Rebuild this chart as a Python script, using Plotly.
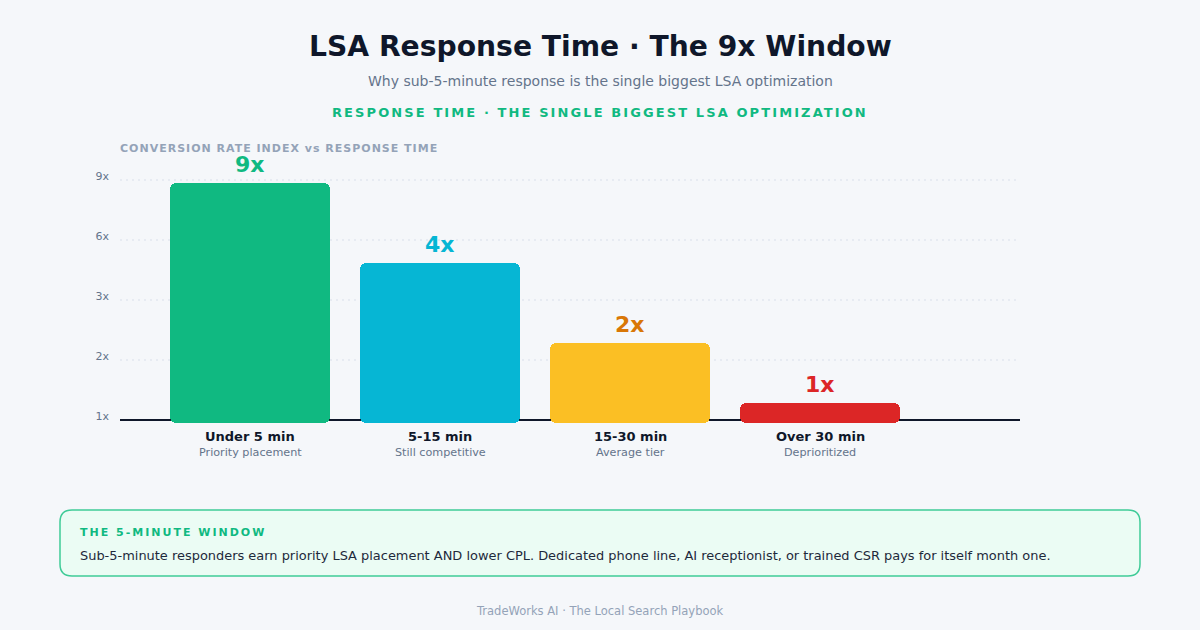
import plotly.graph_objects as go

# ---------------- data ----------------
categories = ["Under 5 min", "5-15 min", "15-30 min", "Over 30 min"]
sublabels = ["Priority placement", "Still competitive", "Average tier", "Deprioritized"]
multipliers = [9, 4, 2, 1]
value_labels = [f"{m}x" for m in multipliers]
bar_height_pct = [100, 66.7, 33.3, 8.3]          # displayed bar height (% of max)
tick_pct = [0, 25, 50, 75, 100]
tick_labels = ["1x", "2x", "3x", "6x", "9x"]
bar_colors = ["#10b981", "#06b6d4", "#fbbf24", "#dc2626"]
label_colors = ["#10b981", "#06b6d4", "#d97706", "#dc2626"]

title = "LSA Response Time · The 9x Window"
subtitle = "Why sub-5-minute response is the single biggest LSA optimization"
kicker = "RESPONSE TIME · THE SINGLE BIGGEST LSA OPTIMIZATION"
chart_label = "CONVERSION RATE INDEX vs RESPONSE TIME"
box_title = "THE 5-MINUTE WINDOW"
box_text = ("Sub-5-minute responders earn priority LSA placement AND lower CPL. "
            "Dedicated phone line, AI receptionist, or trained CSR pays for itself month one.")
footer = "TradeWorks AI · The Local Search Playbook"

# ---------------- layout helpers ----------------
W, H = 1200, 630
ML, MR, MT, MB = 120, 180, 170, 200
PW, PH = W - ML - MR, H - MT - MB
FONT = "DejaVu Sans, Verdana, sans-serif"


def px(x):
    return (x - ML) / PW


def py(y):
    return (H - MB - y) / PH


def spaced(t, ls):
    return f'<span style="letter-spacing:{ls}px">{t}</span>'


xpos = list(range(len(categories)))
bar_w = 160 / 190
x_range = [-130 / 190, 770 / 190]
y_unit = 2.4  # px per pct
y_range = [-10 / y_unit, 250 / y_unit]
base_off = -3 / y_unit

fig = go.Figure()
fig.add_trace(go.Bar(
    x=xpos, y=bar_height_pct, base=[base_off] * len(xpos), width=bar_w,
    marker=dict(color=bar_colors, cornerradius=6, line=dict(width=0)),
    hoverinfo="skip", showlegend=False,
))

ann = []
# value labels above bars
for i, (h, lab, c) in enumerate(zip(bar_height_pct, value_labels, label_colors)):
    ann.append(dict(x=i, y=h + base_off, xref="x", yref="y", text=f"<b>{lab}</b>",
                    showarrow=False, yanchor="bottom", yshift=4,
                    font=dict(size=22, color=c, family=FONT)))
# category labels
for i, (cat, sub) in enumerate(zip(categories, sublabels)):
    ann.append(dict(x=i, y=py(436), xref="x", yref="paper", text=f"<b>{cat}</b>",
                    showarrow=False, yanchor="middle",
                    font=dict(size=13, color="#0f172a", family=FONT)))
    ann.append(dict(x=i, y=py(452), xref="x", yref="paper", text=sub,
                    showarrow=False, yanchor="middle",
                    font=dict(size=11.2, color="#64748b", family=FONT)))

# titles
ann += [
    dict(x=px(600), y=py(47), xref="paper", yref="paper", text=f"<b>{title}</b>",
         showarrow=False, yanchor="middle", xanchor="center",
         font=dict(size=28.2, color="#0f172a", family=FONT)),
    dict(x=px(600), y=py(81), xref="paper", yref="paper", text=subtitle,
         showarrow=False, yanchor="middle", xanchor="center",
         font=dict(size=14, color="#64748b", family=FONT)),
    dict(x=px(600), y=py(113), xref="paper", yref="paper", text=f"<b>{spaced(kicker, 2.1)}</b>",
         showarrow=False, yanchor="middle", xanchor="center",
         font=dict(size=13, color="#10b981", family=FONT)),
    dict(x=px(118), y=py(148), xref="paper", yref="paper", text=f"<b>{spaced(chart_label, 1)}</b>",
         showarrow=False, yanchor="middle", xanchor="left",
         font=dict(size=11, color="#94a3b8", family=FONT)),
    dict(x=px(78), y=py(532), xref="paper", yref="paper", text=f"<b>{spaced(box_title, 2.0)}</b>",
         showarrow=False, yanchor="middle", xanchor="left",
         font=dict(size=11, color="#10b981", family=FONT)),
    dict(x=px(78), y=py(555), xref="paper", yref="paper", text=box_text,
         showarrow=False, yanchor="middle", xanchor="left",
         font=dict(size=12.95, color="#1e293b", family=FONT)),
    dict(x=px(600), y=py(611), xref="paper", yref="paper", text=footer,
         showarrow=False, yanchor="middle", xanchor="center",
         font=dict(size=11.5, color="#94a3b8", family=FONT)),
]


def rounded_rect(x0, y0, x1, y1, r):
    X = px
    Y = py
    return (f"M {X(x0 + r)} {Y(y0)} L {X(x1 - r)} {Y(y0)} Q {X(x1)} {Y(y0)} {X(x1)} {Y(y0 + r)} "
            f"L {X(x1)} {Y(y1 - r)} Q {X(x1)} {Y(y1)} {X(x1 - r)} {Y(y1)} "
            f"L {X(x0 + r)} {Y(y1)} Q {X(x0)} {Y(y1)} {X(x0)} {Y(y1 - r)} "
            f"L {X(x0)} {Y(y0 + r)} Q {X(x0)} {Y(y0)} {X(x0 + r)} {Y(y0)} Z")


shapes = []
# dotted gridlines (skip the baseline tick)
for t in tick_pct[1:]:
    shapes.append(dict(type="line", xref="paper", yref="y", x0=0, x1=1, y0=t, y1=t,
                       line=dict(color="#e2e8f0", width=1.5, dash="2px,4px"), layer="below"))
shapes += [
    dict(type="line", xref="paper", yref="y", x0=0, x1=1, y0=tick_pct[0], y1=tick_pct[0],
         line=dict(color="#0f172a", width=2), layer="below"),
    dict(type="path", xref="paper", yref="paper", path=rounded_rect(60, 510, 1140, 576, 12),
         fillcolor="#ebfcf4", line=dict(color="#3fcb97", width=1.5), layer="below"),
]

fig.update_layout(
    width=W, height=H,
    margin=dict(l=ML, r=MR, t=MT, b=MB),
    paper_bgcolor="#f5f7fa", plot_bgcolor="rgba(0,0,0,0)",
    font=dict(family=FONT),
    annotations=ann, shapes=shapes,
    bargap=0,
    xaxis=dict(range=x_range, showgrid=False, zeroline=False, showticklabels=False,
               showline=False, fixedrange=True),
    yaxis=dict(range=y_range, tickvals=tick_pct, ticktext=tick_labels,
               showgrid=False, zeroline=False, showline=False, ticks="",
               ticklabelstandoff=10, ticklabelshift=-4,
               tickfont=dict(size=11, color="#64748b", family=FONT), fixedrange=True),
)

fig.write_html("out.html", config={"displayModeBar": False})
